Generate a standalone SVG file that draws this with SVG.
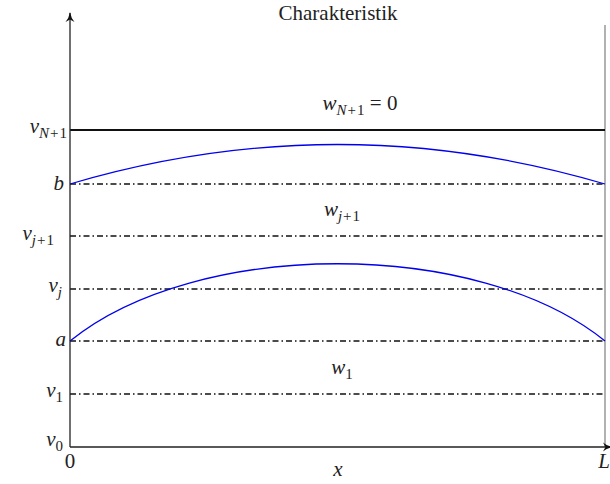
<svg xmlns="http://www.w3.org/2000/svg" width="610" height="484" viewBox="0 0 610 484">
<defs>
<style>
text{font-family:"Liberation Serif","DejaVu Serif",serif;font-size:21px;fill:#222}
.m{font-style:italic}
.s{font-size:15px;font-style:italic}
.n{font-size:15px;font-style:normal}
.dd{stroke:#111;stroke-width:1.4;stroke-dasharray:6 3 1.5 3;fill:none}
.curve{stroke:#0000ee;stroke-width:1.3;fill:none}
</style>
<marker id="ah" viewBox="0 0 10 10" refX="9" refY="5" markerWidth="10" markerHeight="10" orient="auto" markerUnits="userSpaceOnUse">
<path d="M0,0.5 Q4,4 10,5 Q4,6 0,9.5 L2.5,5 Z" fill="#111"/>
</marker>
</defs>
<rect width="610" height="484" fill="#fff"/>
<g id="connectors">
<line x1="605" y1="25" x2="605" y2="447" stroke="#888" stroke-width="1.3"/>
<line x1="70" y1="130" x2="605" y2="130" stroke="#111" stroke-width="2"/>
<line class="dd" x1="70" y1="184" x2="605" y2="184"/>
<line class="dd" x1="70" y1="236" x2="605" y2="236"/>
<line class="dd" x1="70" y1="289" x2="605" y2="289"/>
<line class="dd" x1="70" y1="341" x2="605" y2="341"/>
<line class="dd" x1="70" y1="394" x2="605" y2="394"/>
<path class="curve" d="M70,184 Q337.5,105 605,184"/>
<path class="curve" d="M70,341 C197,238 478,238 605,341"/>
<line id="yaxis" x1="70" y1="447" x2="70" y2="13" stroke="#222" stroke-width="1.3" marker-end="url(#ah)"/>
<line id="xaxis" x1="70" y1="447" x2="612" y2="447" stroke="#222" stroke-width="1.3" marker-end="url(#ah)"/>
</g>
<g id="labels">
<text x="338" y="20" text-anchor="middle" font-size="22">Charakteristik</text>
<text x="67" y="133" text-anchor="end" class="m">v<tspan class="s" dy="5">N</tspan><tspan class="n" dx="1">+</tspan><tspan class="n" dx="1">1</tspan></text>
<text x="64" y="190" text-anchor="end" class="m">b</text>
<text x="54" y="240" text-anchor="end" class="m">v<tspan class="s" dy="5">j</tspan><tspan class="n" dx="1">+</tspan><tspan class="n" dx="1">1</tspan></text>
<text x="62" y="292" text-anchor="end" class="m">v<tspan class="s" dy="5">j</tspan></text>
<text x="66" y="346" text-anchor="end" class="m">a</text>
<text x="63" y="397" text-anchor="end" class="m">v<tspan class="n" dy="5">1</tspan></text>
<text x="63" y="446" text-anchor="end" class="m">v<tspan class="n" dy="5">0</tspan></text>
<text x="70" y="468" text-anchor="middle">0</text>
<text x="338" y="476" text-anchor="middle" class="m">x</text>
<text x="604" y="468" text-anchor="middle" class="m">L</text>
<text x="360" y="110" text-anchor="middle" class="m">w<tspan class="s" dy="5">N</tspan><tspan class="n" dx="1">+</tspan><tspan class="n" dx="1">1</tspan><tspan dy="-5" font-style="normal"> = 0</tspan></text>
<text x="342" y="216" text-anchor="middle" class="m">w<tspan class="s" dy="5">j</tspan><tspan class="n" dx="1">+</tspan><tspan class="n" dx="1">1</tspan></text>
<text x="342" y="374" text-anchor="middle" class="m">w<tspan class="n" dy="5">1</tspan></text>
</g>
</svg>
